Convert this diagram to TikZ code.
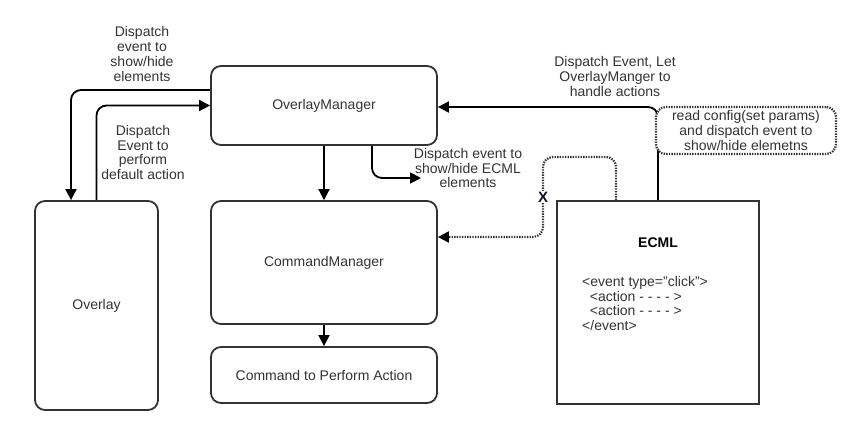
\documentclass[tikz,border=0pt]{standalone}
\usepackage{fontspec}
\setmainfont{Liberation Sans}
\usetikzlibrary{arrows.meta}
\definecolor{edgegray}{HTML}{333333}
\definecolor{dotgray}{HTML}{333333}
\definecolor{xblue}{HTML}{111122}
\begin{document}
\begin{tikzpicture}[x=1pt,y=-1pt,
  every node/.style={font=\fontsize{14}{14.7}\selectfont, text=black!80},
  box/.style={draw=edgegray, line width=1.8pt, rounded corners=10pt, fill=white, inner sep=0pt},
  sqbox/.style={draw=edgegray, line width=1.8pt, fill=white, inner sep=0pt},
  conn/.style={draw=black, line width=1.8pt, rounded corners=10pt, -{Triangle[length=11pt,width=11pt]}},
  dconn/.style={draw=dotgray, line width=2.2pt, dash pattern=on 1.4pt off 1.2pt, rounded corners=10pt, -{Triangle[length=11pt,width=11pt,color=black]}},
  lbl/.style={align=center, inner sep=0pt}]
\useasboundingbox (0,0) rectangle (863,439);

% boxes
\node[box, minimum width=226pt, minimum height=79pt] (om) at (324,105.5) {OverlayManager};
\node[box, minimum width=226pt, minimum height=123pt] (cm) at (324,262.5) {CommandManager};
\node[box, minimum width=226pt, minimum height=56pt] (cmd) at (324,375) {Command to Perform Action};
\node[box, minimum width=123pt, minimum height=209pt] (ov) at (96.5,305.5) {Overlay};
\node[sqbox, minimum width=202pt, minimum height=203pt] (ecml) at (658,302.5) {};
\node[font=\fontsize{14}{14.7}\selectfont\bfseries, text=black] (ecmlt) at (658,243) {ECML};
\node[lbl, align=left, anchor=north west] (code) at (582,276) {<event type="click">\\\ \ <action - - - - >\\\ \ <action - - - - >\\</event>};

% labels
\node[lbl] (l1) at (142,54) {Dispatch\\event to\\show/hide\\elements};
\node[lbl] (l2) at (143,152.5) {Dispatch\\Event to\\perform\\default action};
\node[lbl] (l3) at (468,168) {Dispatch event to\\show/hide ECML\\elements};
\node[lbl] (l4) at (615,76.5) {Dispatch Event, Let\\OverlayManger to\\handle actions};

% connectors
\draw[conn] ([yshift=15.5pt]om.west) -| ([xshift=-25.5pt]ov.north);
\draw[conn] (ov.north) |- (om.west);
\draw[conn] (om.south) -- (cm.north);
\coordinate (c1) at (421,178);
\draw[conn] ([xshift=48pt]om.south) |- (c1);
\draw[conn] (cm.south) -- (cmd.north);
\draw[conn] (ecml.north) |- ([yshift=-1.5pt]om.east);
\coordinate (d1) at (543,157);
\draw[dconn] ([xshift=-42pt]ecml.north) |- (d1) |- ([yshift=25.5pt]cm.east);
\node[font=\fontsize{15}{15}\selectfont\bfseries, text=xblue, fill=white, inner sep=1pt] (xl) at (543,197) {X};

% dotted note box
\node[draw=dotgray, line width=2.2pt, dash pattern=on 1.4pt off 1.2pt, rounded corners=10pt, fill=white, minimum width=180pt, minimum height=47pt, align=center, inner sep=0pt] (rc) at (746,130.5) {read config(set params)\\and dispatch event to\\show/hide elemetns};
\end{tikzpicture}
\end{document}
